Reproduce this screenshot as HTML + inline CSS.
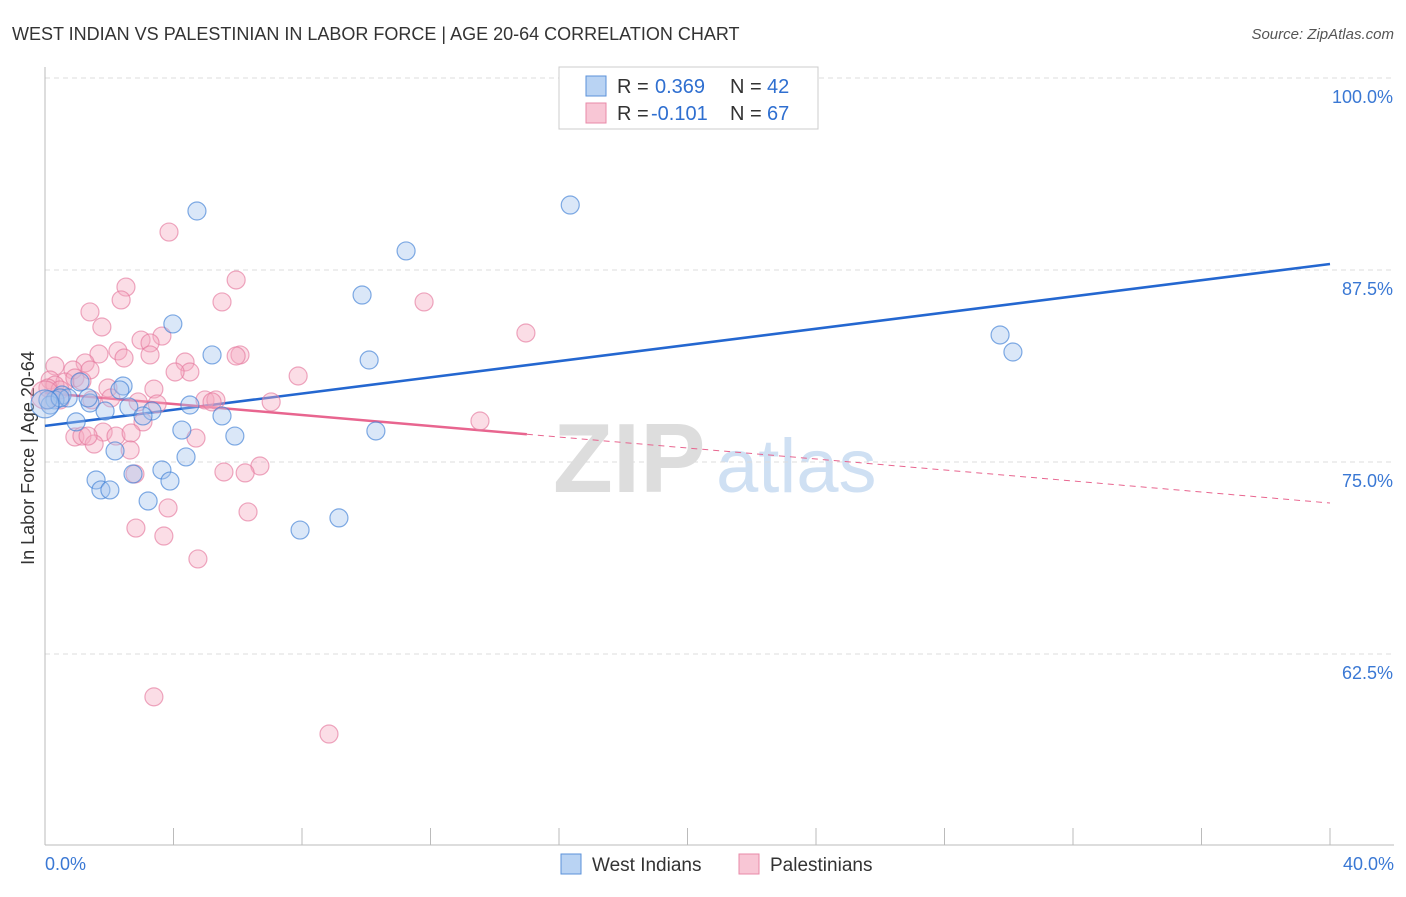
<!DOCTYPE html>
<html><head><meta charset="utf-8"><style>
body{margin:0;background:#fff;font-family:"Liberation Sans",sans-serif;}
svg text{font-family:"Liberation Sans",sans-serif;}
</style></head><body>
<svg width="1406" height="892" xmlns="http://www.w3.org/2000/svg">
<text x="12" y="40" font-size="18" fill="#333">WEST INDIAN VS PALESTINIAN IN LABOR FORCE | AGE 20-64 CORRELATION CHART</text>
<text x="1394" y="39" font-size="15" fill="#555" text-anchor="end" font-style="italic">Source: ZipAtlas.com</text>
<text x="34" y="458" font-size="18" fill="#333" text-anchor="middle" transform="rotate(-90 34 458)">In Labor Force | Age 20-64</text>
<g><text x="553" y="492" font-size="98" fill="#ddd" font-family="Liberation Serif" font-weight="bold">ZIP</text><text x="716" y="492" font-size="76" fill="#cfe0f3">atlas</text></g>
<g id="grid"></g><g id="axes"></g><g id="trends"></g><g id="pts"></g>
<g>
<rect x="559" y="67" width="259" height="62" fill="#fff" stroke="#ccc"/>
<rect x="586" y="76" width="20" height="20" fill="#b9d3f3" stroke="#5b91d9"/>
<rect x="586" y="103" width="20" height="20" fill="#f8c6d5" stroke="#e88aa8"/>
<text x="617" y="93" font-size="20" fill="#333">R =</text><text x="655" y="93" font-size="20" fill="#2f6fd0">0.369</text>
<text x="730" y="93" font-size="20" fill="#333">N =</text><text x="767" y="93" font-size="20" fill="#2f6fd0">42</text>
<text x="617" y="120" font-size="20" fill="#333">R =</text><text x="651" y="120" font-size="20" fill="#2f6fd0">-0.101</text>
<text x="730" y="120" font-size="20" fill="#333">N =</text><text x="767" y="120" font-size="20" fill="#2f6fd0">67</text>
</g>
<g>
<rect x="561" y="854" width="20" height="20" fill="#b9d3f3" stroke="#5b91d9"/>
<text x="592" y="871" font-size="19" fill="#333">West Indians</text>
<rect x="739" y="854" width="20" height="20" fill="#f8c6d5" stroke="#e88aa8"/>
<text x="770" y="871" font-size="19" fill="#333">Palestinians</text>
</g>
</svg>
<script>
const yTicks=[100,87.5,75,62.5];
const yTickLabels=["100.0%","87.5%","75.0%","62.5%"];
const xEndLabels=["0.0%","40.0%"];
const blueX=[4.73,16.35,11.24,9.87,3.98,5.20,10.09,29.73,30.13,1.09,2.43,2.33,0.53,0.31,0.72,1.40,2.61,1.87,3.33,3.05,4.51,5.51,0.97,4.26,5.91,10.30,2.18,4.39,3.64,2.74,3.89,1.59,1.74,2.02,3.21,7.94,9.15,0.16,0.09,0.47,0,1.34];
const blueY=[91.34,91.73,88.74,85.87,83.99,81.97,81.64,83.27,82.16,80.21,79.95,79.69,79.36,79.04,79.17,78.84,78.58,78.32,78.32,78.00,78.71,78.00,77.61,77.08,76.69,77.02,75.72,75.33,74.48,74.22,73.76,73.83,73.18,73.18,72.46,70.57,71.36,78.71,79.04,79.17,78.78,79.17];
const pinkX=[3.86,5.95,2.52,2.37,5.51,11.80,1.40,1.77,14.97,2.99,3.64,3.27,1.68,2.27,2.46,3.27,4.36,6.07,5.95,0.31,1.25,0.87,1.40,4.51,4.05,7.88,0.16,0.62,0.93,0.31,1.15,1.96,3.39,0.09,0.47,2.05,1.46,2.90,3.49,4.98,5.32,5.20,7.04,3.05,13.54,1.81,0.93,1.15,2.21,2.68,4.70,1.53,2.65,6.69,5.57,6.23,2.80,3.83,6.32,2.83,3.70,4.76,3.39,8.84,1.34,0.47,0];
const pinkY=[89.97,86.85,86.39,85.55,85.42,85.42,84.77,83.79,83.40,82.94,83.20,82.75,82.03,82.23,81.77,81.97,81.51,81.97,81.90,81.25,81.45,80.99,80.99,80.86,80.86,80.60,80.34,80.21,80.47,80.01,80.27,79.82,79.75,79.82,79.69,79.17,79.04,78.91,78.78,79.04,79.04,78.91,78.91,77.61,77.67,76.95,76.63,76.69,76.69,76.89,76.56,76.17,75.78,74.74,74.35,74.29,74.22,72.01,71.75,70.70,70.18,68.69,59.71,57.29,76.69,79.04,79.36];
const blueTrend=[77.35,87.89];
const pinkTrend=[79.49,72.33];
const pinkSolidEnd=15;
const NS="http://www.w3.org/2000/svg";
const X0=45,X1=1330,Y0=78,Y1=846;
function sx(v){return X0+(v/40)*(X1-X0);}
function sy(v){return Y0+(100-v)/50*(Y1-Y0);}
function mk(tag,attrs,parent){const e=document.createElementNS(NS,tag);for(const k in attrs)e.setAttribute(k,attrs[k]);document.getElementById(parent).appendChild(e);return e;}
yTicks.forEach((t,i)=>{
 const l=mk('line',{x1:45,x2:1394,y1:sy(t),y2:sy(t),stroke:'#ddd','stroke-dasharray':'5,4'},'grid');
 
 
 const tx=mk('text',{x:1393,y:sy(t)+25,'font-size':18,fill:'#3a78d4','text-anchor':'end'},'grid');
 tx.textContent=yTickLabels[i];
 
 
});
const ax=mk('line',{x1:45,x2:1394,y1:845,y2:845,stroke:'#bbb'},'axes');


const ay=mk('line',{x1:45,x2:45,y1:67,y2:845,stroke:'#bbb'},'axes');


for(let i=0;i<=10;i++){
 const t=mk('line',{x1:sx(i*4),x2:sx(i*4),y1:828,y2:845,stroke:'#bbb'},'axes');
 
 
}
const xl0=mk('text',{x:45,y:870,'font-size':18,fill:'#3a78d4'},'axes');xl0.textContent=xEndLabels[0];


const xl1=mk('text',{x:1394,y:870,'font-size':18,fill:'#3a78d4','text-anchor':'end'},'axes');xl1.textContent=xEndLabels[1];


function drawPts(xs,ys,fill,stroke,name){
 xs.forEach((x,i)=>{const c=mk('circle',{cx:sx(x),cy:sy(ys[i]),r:(x===0?14:9),fill:fill,'fill-opacity':0.4,stroke:stroke,'stroke-width':1.2,'stroke-opacity':0.65},'pts');
 
 });
}
drawPts(pinkX,pinkY,'#f4a9c0','#e57a9e','palestinian-point');
drawPts(blueX,blueY,'#a3c4ee','#3f7fd6','west-indian-point');
const bt=mk('line',{x1:sx(0),y1:sy(blueTrend[0]),x2:sx(40),y2:sy(blueTrend[1]),stroke:'#2467d0','stroke-width':2.5},'trends');


const pm=pinkTrend[0]+(pinkTrend[1]-pinkTrend[0])*pinkSolidEnd/40;
const ps=mk('line',{x1:sx(0),y1:sy(pinkTrend[0]),x2:sx(pinkSolidEnd),y2:sy(pm),stroke:'#e8658f','stroke-width':2.5},'trends');


const pd=mk('line',{x1:sx(pinkSolidEnd),y1:sy(pm),x2:sx(40),y2:sy(pinkTrend[1]),stroke:'#e8658f','stroke-width':1,'stroke-dasharray':'6,5'},'trends');


</script>
</body></html>
